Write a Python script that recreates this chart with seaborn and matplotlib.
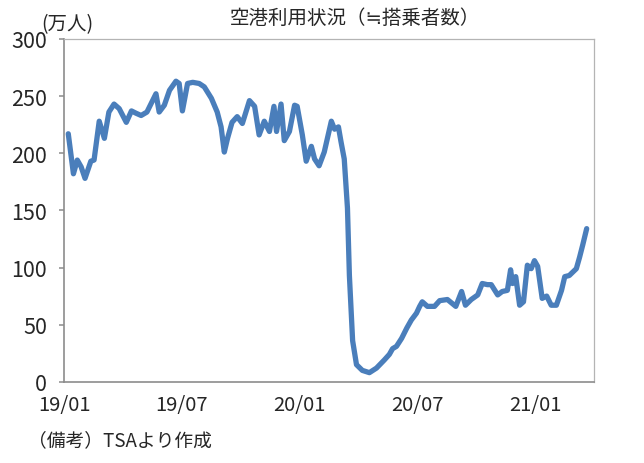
import pandas as pd
import matplotlib.pyplot as plt
import seaborn as sns

# Airport throughput (approx. passengers), in 10k people
dates = [
    "2019-01-07", "2019-01-15", "2019-01-21", "2019-01-27", "2019-02-02", "2019-02-11",
    "2019-02-16", "2019-02-24", "2019-03-04", "2019-03-11", "2019-03-19", "2019-03-27",
    "2019-04-07", "2019-04-15", "2019-04-22", "2019-04-30", "2019-05-09", "2019-05-23",
    "2019-05-28", "2019-06-05", "2019-06-13", "2019-06-23", "2019-06-28", "2019-07-03",
    "2019-07-11", "2019-07-19", "2019-07-29", "2019-08-06", "2019-08-17", "2019-08-26",
    "2019-09-01", "2019-09-06", "2019-09-11", "2019-09-18", "2019-09-26", "2019-10-04",
    "2019-10-15", "2019-10-23", "2019-10-30", "2019-11-07", "2019-11-15", "2019-11-22",
    "2019-11-26", "2019-12-03", "2019-12-08", "2019-12-16", "2019-12-24", "2019-12-28",
    "2020-01-05", "2020-01-11", "2020-01-19", "2020-01-24", "2020-01-31", "2020-02-08",
    "2020-02-19", "2020-02-24", "2020-03-01", "2020-03-05", "2020-03-10", "2020-03-15",
    "2020-03-18", "2020-03-23", "2020-03-29", "2020-04-07", "2020-04-18", "2020-04-29",
    "2020-05-11", "2020-05-19", "2020-05-24", "2020-05-30", "2020-06-07", "2020-06-15",
    "2020-06-22", "2020-06-30", "2020-07-05", "2020-07-09", "2020-07-17", "2020-07-28",
    "2020-08-05", "2020-08-17", "2020-08-30", "2020-09-08", "2020-09-14", "2020-09-23",
    "2020-10-03", "2020-10-10", "2020-10-18", "2020-10-24", "2020-11-03", "2020-11-10",
    "2020-11-18", "2020-11-23", "2020-11-26", "2020-12-01", "2020-12-07", "2020-12-13",
    "2020-12-19", "2020-12-25", "2020-12-30", "2021-01-04", "2021-01-11", "2021-01-18",
    "2021-01-25", "2021-02-02", "2021-02-10", "2021-02-15", "2021-02-22", "2021-03-05",
    "2021-03-10", "2021-03-15", "2021-03-21",
]
passengers = [
    217, 182, 194, 188, 178, 193,
    194, 228, 213, 236, 243, 239,
    227, 237, 235, 233, 236, 252,
    236, 242, 255, 263, 261, 237,
    261, 262, 261, 258, 248, 236,
    223, 201, 213, 227, 232, 226,
    246, 241, 216, 228, 219, 241,
    219, 243, 211, 219, 242, 241,
    216, 193, 206, 195, 189, 201,
    228, 221, 223, 210, 195, 152,
    93, 36, 15, 10, 8, 12,
    19, 24, 29, 31, 38, 47,
    54, 60, 66, 70, 66, 66,
    71, 72, 66, 79, 67, 72,
    76, 86, 85, 85, 76, 79,
    80, 98, 86, 92, 67, 70,
    102, 99, 106, 101, 73, 75,
    67, 67, 80, 92, 93, 99,
    109, 120, 134,
]
tick_dates = ["2019-01-01", "2019-07-01", "2020-01-01", "2020-07-01", "2021-01-01"]
tick_labels = ["19/01", "19/07", "20/01", "20/07", "21/01"]

df = pd.DataFrame({"date": pd.to_datetime(dates), "passengers": passengers})

sns.set_theme(style="white")
plt.rcParams['font.family'] = ['Noto Sans CJK JP', 'DejaVu Sans']

fig = plt.figure(figsize=(6.44, 4.64), dpi=100)
ax = fig.add_axes([0.100, 0.175, 0.822, 0.739])

sns.lineplot(data=df, x="date", y="passengers", ax=ax, color="#4a7ebb", linewidth=3.8)

ax.set_xlim(pd.Timestamp("2019-01-01"), pd.Timestamp("2021-04-01"))
ax.set_ylim(0, 300)
ax.set_yticks(range(0, 301, 50))
ax.set_xticks(pd.to_datetime(tick_dates))
ax.set_xticklabels(tick_labels)
ax.set_xlabel("")
ax.set_ylabel("")

ax.tick_params(axis="y", labelsize=15.5, length=3.6, width=1.1, color="#8c8c8c", left=True, pad=9)
ax.tick_params(axis="x", labelsize=14.5, length=0, pad=9)
for side in ["left", "bottom"]:
    ax.spines[side].set_color("#8c8c8c")
    ax.spines[side].set_linewidth(1.2)
for side in ["top", "right"]:
    ax.spines[side].set_color("#b4b4b4")
    ax.spines[side].set_linewidth(0.9)

fig.text(0.551, 0.961, "空港利用状況（≒搭乗者数）", ha="center", va="center", fontsize=14)
fig.text(0.104, 0.948, "(万人)", ha="center", va="center", fontsize=14)
fig.text(0.043, 0.050, "（備考）TSAより作成", ha="left", va="center", fontsize=13.5)

fig.savefig("out.png", dpi=100)
